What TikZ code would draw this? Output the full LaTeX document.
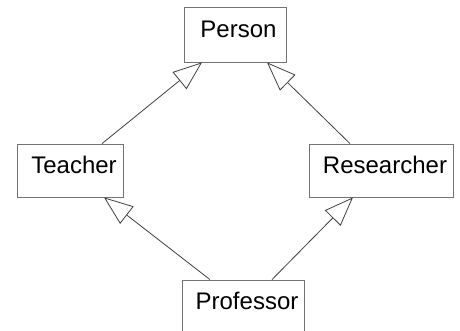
\documentclass[tikz,border=0pt]{standalone}
\usepackage{fontspec}
\setmainfont{Liberation Sans}
\usetikzlibrary{arrows.meta}
\begin{document}
\begin{tikzpicture}[x=1pt, y=-1pt,
        umlbox/.style={draw=black!55, line width=0.8pt, fill=white,
            font=\fontsize{24}{28}\selectfont, text height=18pt, text depth=12.8pt,
            inner sep=0pt, minimum height=53pt},
        inherit/.style={draw=black!75, line width=0.8pt,
            -{Triangle[open, length=29pt, width=22pt]}}]
        % Fix the picture size
        \clip (0,0) rectangle (460,331);
        \fill[white] (0,0) rectangle (460,331);
        % Draw the classes
        \node[umlbox, minimum width=102pt, minimum height=55pt] (person) at (235,34.5) {\hspace*{7pt}Person};
        \node[umlbox, minimum width=106pt] (teacher) at (70,170.5) {\hspace*{8pt}Teacher};
        \node[umlbox, minimum width=144pt] (researcher) at (381,170.5) {\hspace*{8pt}Researcher};
        \node[umlbox, minimum width=122pt] (professor) at (243,306.5) {\hspace*{8pt}Professor};
        % Draw the inheritance arrows
        \draw[inherit] ([xshift=32pt]teacher.north) -- ([xshift=-33pt]person.south);
        \draw[inherit] ([xshift=-31pt]researcher.north) -- ([xshift=32pt]person.south);
        \draw[inherit] ([xshift=-33pt]professor.north) -- ([xshift=34pt]teacher.south);
        \draw[inherit] ([xshift=29pt]professor.north) -- ([xshift=-28pt]researcher.south);
\end{tikzpicture}
\end{document}
